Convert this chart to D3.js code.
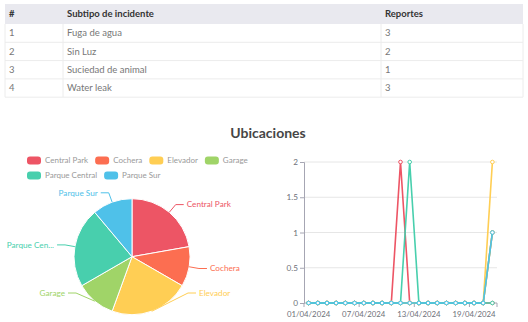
<!DOCTYPE html>
<html>
<head>
<meta charset="utf-8">
<script src="https://cdn.jsdelivr.net/npm/d3@7/dist/d3.min.js"></script>
<style>
  html, body { margin: 0; padding: 0; background: #fff; }
  svg { display: block; }
</style>
</head>
<body>
<svg id="chart" width="528" height="322"></svg>
<script>
// Incident subtypes table
const tableHeaders = ["#", "Subtipo de incidente", "Reportes"];
const subtypes = ["Fuga de agua", "Sin Luz", "Suciedad de animal", "Water leak"];
const subtypeCounts = [3, 2, 1, 3];

// Locations (pie + daily lines)
const locations = ["Central Park", "Cochera", "Elevador", "Garage", "Parque Central", "Parque Sur"];
const locationTotals = [2, 1, 2, 1, 2, 1];
const locationColors = ["#ED5565", "#FC6E51", "#FFCE54", "#A0D468", "#48CFAD", "#4FC1E9"];

const days = ["01/04/2024","02/04/2024","03/04/2024","04/04/2024","05/04/2024","06/04/2024","07/04/2024",
              "08/04/2024","09/04/2024","10/04/2024","11/04/2024","12/04/2024","13/04/2024","14/04/2024",
              "15/04/2024","16/04/2024","17/04/2024","18/04/2024","19/04/2024","20/04/2024","21/04/2024"];
const seriesCentralPark   = [0,0,0,0,0,0,0,0,0,0,2,0,0,0,0,0,0,0,0,0,0];
const seriesCochera       = [0,0,0,0,0,0,0,0,0,0,0,0,0,0,0,0,0,0,0,0,1];
const seriesElevador      = [0,0,0,0,0,0,0,0,0,0,0,0,0,0,0,0,0,0,0,0,2];
const seriesGarage        = [0,0,0,0,0,0,0,0,0,0,0,0,0,0,0,0,0,0,0,0,1];
const seriesParqueCentral = [0,0,0,0,0,0,0,0,0,0,0,2,0,0,0,0,0,0,0,0,0];
const seriesParqueSur     = [0,0,0,0,0,0,0,0,0,0,0,0,0,0,0,0,0,0,0,0,1];
const lineSeries = [seriesCentralPark, seriesCochera, seriesElevador, seriesGarage, seriesParqueCentral, seriesParqueSur];
const yTicks = [0, 0.5, 1, 1.5, 2];

const svg = d3.select("#chart");
const FONT = "Lato, 'Open Sans', sans-serif";
const SMALL = 7.8;

/* ---------- table ---------- */
const tLeft = 5, tRight = 523, tTop = 4, headH = 20, rowH = 18.3;
const colX = [5, 63, 381];
const table = svg.append("g").attr("font-family", FONT).attr("font-size", 9.5);
table.append("rect").attr("x", tLeft).attr("y", tTop).attr("width", tRight - tLeft).attr("height", headH)
  .attr("fill", "#e9e9ef");
tableHeaders.forEach((h, i) => {
  table.append("text").attr("x", colX[i] + 4).attr("y", tTop + headH / 2).attr("dy", "0.35em")
    .attr("fill", "#333").attr("font-weight", "bold").text(h);
});
subtypes.forEach((s, r) => {
  const y0 = tTop + headH + r * rowH;
  table.append("line").attr("x1", tLeft).attr("x2", tRight).attr("y1", y0 + rowH).attr("y2", y0 + rowH)
    .attr("stroke", "#ececec");
  const cells = [String(r + 1), s, String(subtypeCounts[r])];
  cells.forEach((c, i) => {
    table.append("text").attr("x", colX[i] + 4).attr("y", y0 + rowH / 2).attr("dy", "0.35em")
      .attr("fill", "#777").text(c);
  });
});
const tBottom = tTop + headH + subtypes.length * rowH;
[colX[1], colX[2]].forEach(x => {
  table.append("line").attr("x1", x).attr("x2", x).attr("y1", tTop + headH).attr("y2", tBottom).attr("stroke", "#ececec");
});
table.append("line").attr("x1", tLeft).attr("x2", tLeft).attr("y1", tTop + headH).attr("y2", tBottom).attr("stroke", "#ececec");
table.append("line").attr("x1", tRight).attr("x2", tRight).attr("y1", tTop + headH).attr("y2", tBottom).attr("stroke", "#ececec");

/* ---------- title ---------- */
svg.append("text").attr("x", 268).attr("y", 133).attr("dy", "0.35em").attr("text-anchor", "middle")
  .attr("font-family", FONT).attr("font-size", 14).attr("font-weight", "bold").attr("fill", "#464646")
  .text("Ubicaciones");

/* ---------- legend ---------- */
const legend = svg.append("g").attr("font-family", FONT).attr("font-size", SMALL + 0.2);
let lx = 27, ly = 160.5;
const legendMaxX = 252;
locations.forEach((name, i) => {
  const g = legend.append("g");
  g.append("rect").attr("x", 0).attr("y", -4).attr("width", 14).attr("height", 8).attr("rx", 3)
    .attr("fill", locationColors[i]);
  const t = g.append("text").attr("x", 18).attr("y", 0).attr("dy", "0.35em").attr("fill", "#999").text(name);
  const w = 18 + t.node().getComputedTextLength();
  if (lx + w > legendMaxX) { lx = 27; ly += 15; }
  g.attr("transform", `translate(${lx},${ly})`);
  lx += w + 7;
});

/* ---------- pie ---------- */
const cx = 132, cy = 256.7, R = 58;
const pie = d3.pie().sort(null).value(d => d)(locationTotals);
const arc = d3.arc().innerRadius(0).outerRadius(R);
const pieG = svg.append("g").attr("transform", `translate(${cx},${cy})`);
pieG.selectAll("path").data(pie).join("path")
  .attr("d", arc).attr("fill", (d, i) => locationColors[i]).attr("stroke", "#fff").attr("stroke-width", 1);

const labelG = svg.append("g").attr("font-family", FONT).attr("font-size", SMALL + 0.4);
const bottomLimit = 293, leftLimit = 6;
pie.forEach((d, i) => {
  const a = (d.startAngle + d.endAngle) / 2;
  const sx = cx + R * Math.sin(a), sy = cy - R * Math.cos(a);
  let ox = cx + (R + 10) * Math.sin(a), oy = cy - (R + 10) * Math.cos(a);
  const right = Math.sin(a) >= 0;
  if (oy > bottomLimit) { oy = bottomLimit; ox = cx + (right ? 1 : -1) * (R - 2); }
  const ex = ox + (right ? 8 : -8);
  labelG.append("polyline").attr("points", `${sx},${sy} ${ox},${oy} ${ex},${oy}`)
    .attr("fill", "none").attr("stroke", locationColors[i]).attr("stroke-width", 1);
  const tx = ex + (right ? 3 : -3);
  const t = labelG.append("text").attr("x", tx).attr("y", oy).attr("dy", "0.35em")
    .attr("text-anchor", right ? "start" : "end").attr("fill", locationColors[i]).text(locations[i]);
  if (!right) {
    const avail = tx - leftLimit;
    let label = locations[i];
    while (t.node().getComputedTextLength() > avail && label.length > 1) {
      label = label.slice(0, -1);
      t.text(label.trimEnd() + "...");
    }
  }
});

/* ---------- line chart ---------- */
const gx0 = 304, gx1 = 497, gy0 = 303, gy1 = 162;
const x = d3.scaleBand().domain(d3.range(days.length)).range([gx0, gx1]);
const y = d3.scaleLinear().domain([0, 2]).range([gy0, gy1]);
const lc = svg.append("g").attr("font-family", FONT).attr("font-size", SMALL);

lc.selectAll("line.grid").data(yTicks.filter(v => v > 0)).join("line")
  .attr("x1", gx0).attr("x2", gx1).attr("y1", d => y(d)).attr("y2", d => y(d))
  .attr("stroke", "#e6e6e6");

const yAxis = d3.axisLeft(y).tickValues(yTicks).tickSize(4).tickFormat(d => String(d));
const yg = lc.append("g").attr("transform", `translate(${gx0},0)`).call(yAxis);
yg.select(".domain").attr("stroke", "#a6a6b3");
yg.selectAll(".tick line").attr("stroke", "#a6a6b3");
yg.selectAll(".tick text").attr("fill", "#6e7079").attr("font-family", FONT).attr("font-size", SMALL + 0.4).attr("x", -6);

const labelIdx = [0, 6, 12, 18];
const xg = lc.append("g").attr("transform", `translate(0,${gy0})`);
xg.append("line").attr("x1", gx0).attr("x2", gx1).attr("stroke", "#a6a6b3");
[...labelIdx.map(i => x(i)), gx1].forEach(tx => {
  xg.append("line").attr("x1", tx).attr("x2", tx).attr("y1", 0).attr("y2", 4).attr("stroke", "#a6a6b3");
});
labelIdx.forEach(i => {
  xg.append("text").attr("x", x(i) + x.bandwidth() / 2).attr("y", 11).attr("dy", "0.35em")
    .attr("text-anchor", "middle").attr("fill", "#6e7079").text(days[i]);
});

const line = d3.line().x((d, i) => x(i) + x.bandwidth() / 2).y(d => y(d));
lineSeries.forEach((s, k) => {
  const g = lc.append("g");
  g.append("path").datum(s).attr("d", line).attr("fill", "none")
    .attr("stroke", locationColors[k]).attr("stroke-width", 1.6);
  g.selectAll("circle").data(s).join("circle")
    .attr("cx", (d, i) => x(i) + x.bandwidth() / 2).attr("cy", d => y(d)).attr("r", 1.8)
    .attr("fill", "#fff").attr("stroke", locationColors[k]).attr("stroke-width", 1);
});
</script>
</body>
</html>
